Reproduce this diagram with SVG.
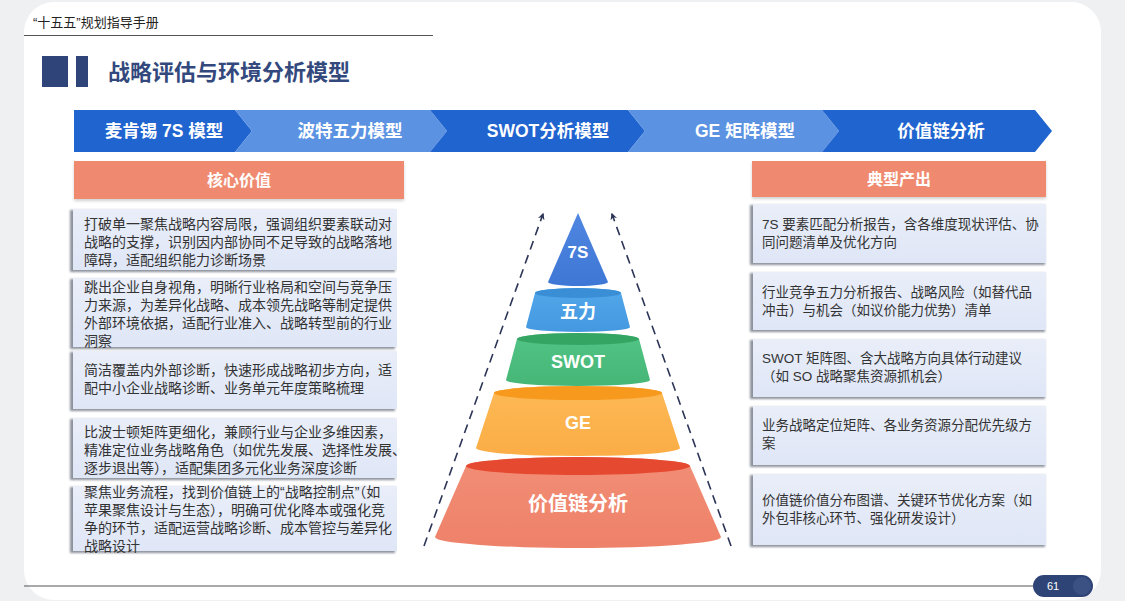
<svg xmlns="http://www.w3.org/2000/svg" width="1125" height="601" viewBox="0 0 1125 601">
<style>
.cjk{font-family:"Liberation Sans","Noto Sans CJK SC",sans-serif}
.chev{font-family:"Liberation Sans","Noto Sans CJK SC",sans-serif;font-size:17.5px;font-weight:bold;fill:#fff;text-anchor:middle}
.hdr{font-family:"Liberation Sans","Noto Sans CJK SC",sans-serif;font-size:16px;font-weight:bold;fill:#fff;text-anchor:middle}
.body{font-family:"Liberation Sans","Noto Sans CJK SC",sans-serif;font-size:14px;fill:#333}
.bodyr{font-family:"Liberation Sans","Noto Sans CJK SC",sans-serif;font-size:13.5px;fill:#333}
.pt{font-family:"Liberation Sans","Noto Sans CJK SC",sans-serif;font-weight:bold;fill:#fff;text-anchor:middle}
.dark{fill:#2064cf}
.light{fill:#5b92e2}
.orange{fill:#ef8a6f}
.card{fill:url(#cardG)}
.cardsh{fill:#8d929c;filter:url(#blur)}
.dash{stroke:#2c3557;stroke-width:1.6;stroke-dasharray:9 6;fill:none;marker-end:url(#ah)}
</style>
<defs>
<linearGradient id="cardG" x1="0" y1="0" x2="0" y2="1">
<stop offset="0" stop-color="#e9eef9"/>
<stop offset="1" stop-color="#dfe6f6"/>
</linearGradient>
<filter id="blur" x="-5%" y="-10%" width="110%" height="125%"><feGaussianBlur stdDeviation="1.2"/></filter>
<filter id="sh" x="-5%" y="-20%" width="110%" height="150%"><feDropShadow dx="0" dy="2" stdDeviation="1.5" flood-color="#000" flood-opacity="0.18"/></filter>
<marker id="ah" viewBox="0 0 10 10" refX="8" refY="5" markerWidth="7" markerHeight="7" orient="auto" markerUnits="userSpaceOnUse">
<path d="M0,0 L10,5 L0,10 L3,5 Z" fill="#2c3557"/>
</marker>
<linearGradient id="g7" x1="0" y1="0" x2="0" y2="1"><stop offset="0" stop-color="#4f86e0"/><stop offset="1" stop-color="#3f77d6"/></linearGradient>
<linearGradient id="g5" x1="0" y1="0" x2="0" y2="1"><stop offset="0" stop-color="#52a8ea"/><stop offset="1" stop-color="#4498e0"/></linearGradient>
<linearGradient id="gs" x1="0" y1="0" x2="0" y2="1"><stop offset="0" stop-color="#52c485"/><stop offset="1" stop-color="#45b676"/></linearGradient>
<linearGradient id="gg" x1="0" y1="0" x2="0" y2="1"><stop offset="0" stop-color="#fdb955"/><stop offset="1" stop-color="#fbad46"/></linearGradient>
<linearGradient id="gv" x1="0" y1="0" x2="0" y2="1"><stop offset="0" stop-color="#f28e76"/><stop offset="1" stop-color="#ee8169"/></linearGradient>
</defs>

<rect x="0" y="0" width="1125" height="601" fill="#eff0f2"/>
<rect x="24" y="2" width="1077" height="598" rx="30" fill="#ffffff"/>

<g id="header">
<text x="33" y="27" class="cjk" font-size="13" fill="#222">“十五五”规划指导手册</text>
<line x1="24" y1="35.5" x2="433" y2="35.5" stroke="#555" stroke-width="1.2"/>
<rect x="42" y="56" width="26" height="31" fill="#2f4478"/>
<rect x="76" y="56" width="12" height="31" fill="#2f4478"/>
<text x="108" y="80" class="cjk" font-size="22" font-weight="bold" fill="#33497d">战略评估与环境分析模型</text>
</g>

<g id="chevrons">
<polygon class="dark" points="74,110 235,110 252,131 235,152 74,152"/>
<polygon class="light" points="235,110 430,110 447,131 430,152 235,152 252,131"/>
<polygon class="dark" points="430,110 628,110 645,131 628,152 430,152 447,131"/>
<polygon class="light" points="628,110 822,110 839,131 822,152 628,152 645,131"/>
<polygon class="dark" points="822,110 1035,110 1052,131 1035,152 822,152 839,131"/>
<text x="164" y="137" class="chev">麦肯锡 7S 模型</text>
<text x="350" y="137" class="chev">波特五力模型</text>
<text x="548" y="137" class="chev">SWOT分析模型</text>
<text x="745" y="137" class="chev">GE 矩阵模型</text>
<text x="941" y="137" class="chev">价值链分析</text>
</g>

<g id="hdr-left">
<rect x="74" y="161" width="330" height="38" class="orange" filter="url(#sh)"/>
<text x="239" y="186" class="hdr">核心价值</text>
</g>
<g id="hdr-right">
<rect x="752" y="161" width="294" height="36" class="orange" filter="url(#sh)"/>
<text x="899" y="185" class="hdr">典型产出</text>
</g>

<g id="left-1">
<rect x="70" y="210" width="325" height="62" class="cardsh"/>
<rect x="73" y="209" width="324" height="61" class="card"/>
<text class="body"><tspan x="84" y="229">打破单一聚焦战略内容局限，强调组织要素联动对</tspan><tspan x="84" y="247">战略的支撑，识别因内部协同不足导致的战略落地</tspan><tspan x="84" y="265">障碍，适配组织能力诊断场景</tspan></text>
</g>
<g id="left-2">
<rect x="70" y="279" width="325" height="70" class="cardsh"/>
<rect x="73" y="278" width="324" height="69" class="card"/>
<text class="body"><tspan x="84" y="292">跳出企业自身视角，明晰行业格局和空间与竞争压</tspan><tspan x="84" y="310">力来源，为差异化战略、成本领先战略等制定提供</tspan><tspan x="84" y="328">外部环境依据，适配行业准入、战略转型前的行业</tspan><tspan x="84" y="346">洞察</tspan></text>
</g>
<g id="left-3">
<rect x="70" y="352" width="325" height="59" class="cardsh"/>
<rect x="73" y="351" width="324" height="58" class="card"/>
<text class="body"><tspan x="84" y="375">简洁覆盖内外部诊断，快速形成战略初步方向，适</tspan><tspan x="84" y="393">配中小企业战略诊断、业务单元年度策略梳理</tspan></text>
</g>
<g id="left-4">
<rect x="70" y="419" width="325" height="61" class="cardsh"/>
<rect x="73" y="418" width="324" height="60" class="card"/>
<text class="body"><tspan x="84" y="437">比波士顿矩阵更细化，兼顾行业与企业多维因素，</tspan><tspan x="84" y="455">精准定位业务战略角色（如优先发展、选择性发展、</tspan><tspan x="84" y="473">逐步退出等），适配集团多元化业务深度诊断</tspan></text>
</g>
<g id="left-5">
<rect x="70" y="487" width="325" height="66" class="cardsh"/>
<rect x="73" y="486" width="324" height="65" class="card"/>
<text class="body"><tspan x="84" y="497">聚焦业务流程，找到价值链上的“战略控制点”（如</tspan><tspan x="84" y="515">苹果聚焦设计与生态），明确可优化降本或强化竞</tspan><tspan x="84" y="533">争的环节，适配运营战略诊断、成本管控与差异化</tspan><tspan x="84" y="551">战略设计</tspan></text>
</g>

<g id="right-1">
<rect x="750" y="205" width="295" height="60" class="cardsh"/>
<rect x="753" y="204" width="293" height="59" class="card"/>
<text class="bodyr"><tspan x="762" y="229">7S 要素匹配分析报告，含各维度现状评估、协</tspan><tspan x="762" y="247">同问题清单及优化方向</tspan></text>
</g>
<g id="right-2">
<rect x="750" y="273" width="295" height="59" class="cardsh"/>
<rect x="753" y="272" width="293" height="58" class="card"/>
<text class="bodyr"><tspan x="762" y="297">行业竞争五力分析报告、战略风险（如替代品</tspan><tspan x="762" y="315">冲击）与机会（如议价能力优势）清单</tspan></text>
</g>
<g id="right-3">
<rect x="750" y="340" width="295" height="59" class="cardsh"/>
<rect x="753" y="339" width="293" height="58" class="card"/>
<text class="bodyr"><tspan x="762" y="363">SWOT 矩阵图、含大战略方向具体行动建议</tspan><tspan x="762" y="381">（如 SO 战略聚焦资源抓机会）</tspan></text>
</g>
<g id="right-4">
<rect x="750" y="407" width="295" height="60" class="cardsh"/>
<rect x="753" y="406" width="293" height="59" class="card"/>
<text class="bodyr"><tspan x="762" y="430">业务战略定位矩阵、各业务资源分配优先级方</tspan><tspan x="762" y="448">案</tspan></text>
</g>
<g id="right-5">
<rect x="750" y="475" width="295" height="72" class="cardsh"/>
<rect x="753" y="474" width="293" height="71" class="card"/>
<text class="bodyr"><tspan x="762" y="505">价值链价值分布图谱、关键环节优化方案（如</tspan><tspan x="762" y="523">外包非核心环节、强化研发设计）</tspan></text>
</g>

<g id="connectors">
<line x1="424" y1="546" x2="543" y2="214" class="dash"/>
<line x1="731" y1="546" x2="612" y2="214" class="dash"/>
</g>

<g id="layer-7s">
<path d="M578,213 L548,282 A30 4 0 0 0 608,282 Z" fill="url(#g7)"/>
<text x="578" y="258" class="pt" font-size="17">7S</text>
</g>
<g id="layer-5f">
<path d="M535,293 L526,327 A52 5 0 0 0 630,327 L621,293 A43 5 0 0 0 535,293 Z" fill="url(#g5)"/>
<ellipse cx="578" cy="293" rx="43" ry="5" fill="#3a8ed6"/>
<text x="578" y="318" class="pt" font-size="18">五力</text>
</g>
<g id="layer-swot">
<path d="M517,339 L506,380 A72 6 0 0 0 650,380 L639,339 A61 6 0 0 0 517,339 Z" fill="url(#gs)"/>
<ellipse cx="578" cy="339" rx="61" ry="6" fill="#35a564"/>
<text x="578" y="368" class="pt" font-size="18">SWOT</text>
</g>
<g id="layer-ge">
<path d="M494,393 L476,448 A102 8 0 0 0 680,448 L662,393 A84 7 0 0 0 494,393 Z" fill="url(#gg)"/>
<ellipse cx="578" cy="393" rx="84" ry="7" fill="#f7991d"/>
<text x="578" y="429" class="pt" font-size="18">GE</text>
</g>
<g id="layer-vc">
<path d="M466,466 L435,537 A143 11 0 0 0 721,537 L690,466 A112 9 0 0 0 466,466 Z" fill="url(#gv)"/>
<ellipse cx="578" cy="466" rx="112" ry="9" fill="#e5492f"/>
<text x="578" y="511" class="pt" font-size="20">价值链分析</text>
</g>

<g id="footer">
<line x1="24" y1="586" x2="1040" y2="586" stroke="#555" stroke-width="1.2"/>
<rect x="1033" y="575" width="60" height="22" rx="11" fill="#2f4476"/>
<circle cx="1082" cy="586" r="9" fill="#3b5083"/>
<text x="1053" y="590" class="cjk" font-size="11" fill="#fff" text-anchor="middle">61</text>
</g>
</svg>
